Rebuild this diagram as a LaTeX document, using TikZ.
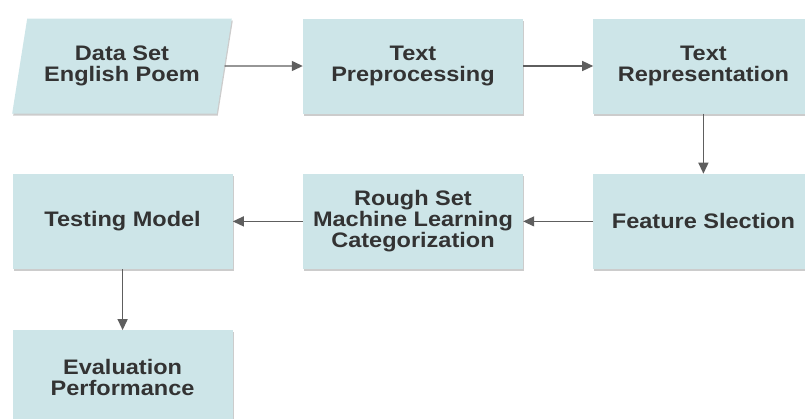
\documentclass[tikz,border=0pt]{standalone}
\usepackage{fontspec}
\setmainfont{Liberation Sans}[FakeStretch=1.12]
\usetikzlibrary{arrows.meta, positioning, shapes.geometric, shadows}
\definecolor{boxfill}{HTML}{CDE5E8}
\definecolor{boxtext}{HTML}{333333}
\definecolor{linegray}{HTML}{5E5E5E}

\begin{document}
\begin{tikzpicture}[
    node distance=60pt and 70pt,
    proc/.style={
        rectangle, fill=boxfill, draw=none,
        minimum width=220pt, minimum height=95pt,
        align=center, font=\fontsize{21}{21}\selectfont\bfseries,
        text=boxtext, inner sep=2pt,
        drop shadow={shadow xshift=1pt, shadow yshift=-2pt, fill=black, opacity=0.2}
    },
    io/.style={
        proc, trapezium, trapezium left angle=74, trapezium right angle=106,
        trapezium stretches=true, minimum width=220pt
    },
    arr/.style={-{Triangle[length=11pt, width=10pt]}, line width=1.3pt, linegray},
]
\useasboundingbox (0,0) rectangle (805pt,-418pt);

% ── Row 1 ────────────────────────────
\node[io] (data) at (122pt,-66pt) {Data Set\\English Poem};
\node[proc] (prep) at (413pt,-66pt) {Text\\Preprocessing};
\node[proc, right=of prep] (repr) {Text\\Representation};

% ── Row 2 ────────────────────────────
\node[proc, below=of repr] (feat) {Feature Slection};
\node[proc, left=of feat] (rough) {Rough Set\\Machine Learning\\Categorization};
\node[proc, left=of rough] (test) {Testing Model};

% ── Row 3 ────────────────────────────
\node[proc, below=61pt of test] (eval) {Evaluation\\Performance};

% ── Flow ─────────────────────────────
\draw[arr] (data) -- (prep);
\draw[arr] (prep) -- (repr);
\draw[arr] (repr) -- (feat);
\draw[arr] (feat) -- (rough);
\draw[arr] (rough) -- (test);
\draw[arr] (test) -- (eval);

\end{tikzpicture}
\end{document}
